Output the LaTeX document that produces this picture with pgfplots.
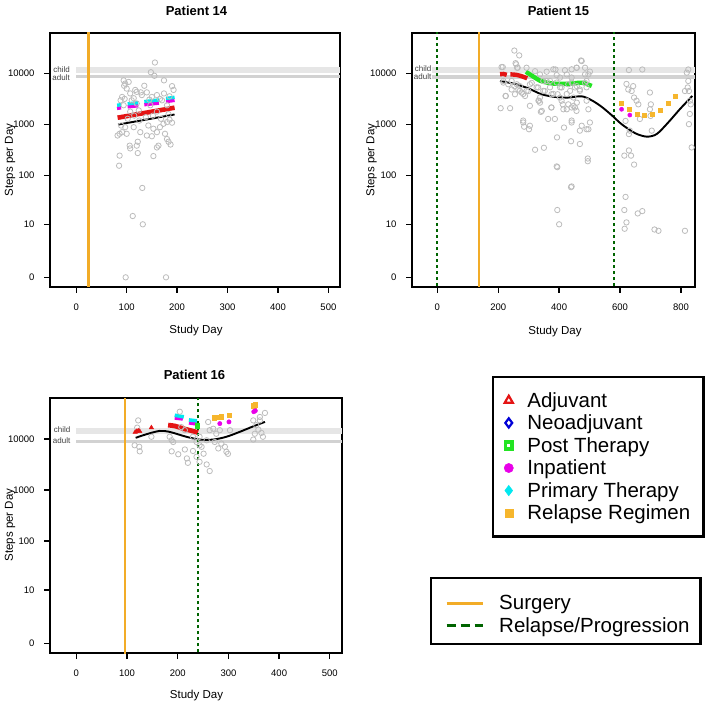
\documentclass[border=0pt]{standalone}
\usepackage{pgfplots}
\pgfplotsset{compat=1.18}
\usepackage{pgfplotstable}
\usepackage{fontspec}
\setmainfont{Liberation Sans}

\definecolor{ptgray}{RGB}{188,188,188}
\definecolor{adjred}{RGB}{228,20,20}
\definecolor{neoblue}{RGB}{0,0,215}
\definecolor{postgreen}{RGB}{35,228,35}
\definecolor{inpmag}{RGB}{232,0,232}
\definecolor{primcyan}{RGB}{0,232,240}
\definecolor{relorange}{RGB}{246,182,45}
\definecolor{surgorange}{RGB}{242,172,40}
\definecolor{relgreen}{RGB}{0,100,0}
\definecolor{childband}{RGB}{230,230,230}
\definecolor{adultband}{RGB}{210,210,210}

% steps are drawn on a log10(steps+1) scale
\newcommand{\stp}{log10(\thisrow{s}+1)}

\pgfplotstableread{
d s
156 16600
148 10700
155 9100
174 7400
94 7400
97 6400
104 6900
95 5800
100 5100
135 5800
190 5700
193 4800
117 4800
120 4400
107 4100
140 4300
130 3800
160 3800
174 4100
91 3500
114 3300
150 3500
166 3200
94 2400
120 2600
147 2400
180 2400
124 1900
160 1800
183 1600
107 1800
89 960
97 890
82 610
86 660
91 710
100 660
114 890
127 710
143 960
153 830
160 710
166 890
173 1040
180 1120
190 1090
140 610
150 590
176 660
180 520
183 460
187 405
106 385
107 340
120 385
122 460
163 385
160 355
122 275
153 240
86 245
85 155
131 56
112 15
132 10
98 0
178 0
88 3000
110 3000
128 4300
145 3100
170 3000
185 3600
138 1400
152 1500
125 1200
102 1300
168 1300
96 3200
115 1500
185 1250
}\ptfourteen

\pgfplotstableread{
d s
253 28500
269 22900
257 16100
264 13100
293 13100
211 13500
217 7200
224 3650
208 2100
239 2100
253 5700
266 4900
277 4270
288 3650
299 4570
271 5700
282 1100
285 910
301 810
304 2340
321 11200
337 9700
348 7200
359 10950
331 5370
334 2950
337 2700
340 1780
321 320
350 350
364 1290
386 1290
375 2170
388 12100
392 9400
395 3950
408 2950
416 875
414 2000
430 2500
441 2170
393 560
394 145
394 20
400 10
439 58
439 470
441 1100
452 2170
457 1860
468 415
474 950
472 18200
457 13100
485 13100
496 9700
501 11000
490 2950
496 2000
501 1100
496 810
494 190
485 6600
468 4900
452 5370
430 6200
408 5370
370 7200
353 4570
375 3950
310 6600
233 6200
244 4900
255 3950
259 15300
215 13500
262 13100
217 6700
244 7200
261 6200
271 4600
282 4000
293 4600
225 3650
403 8400
425 9700
441 8400
458 13100
474 17700
485 9700
332 2950
343 1860
441 1200
468 760
490 810
282 1200
304 950
374 2170
412 2500
425 2000
447 2330
458 2700
447 3400
403 3400
425 4000
381 4000
337 3400
348 4600
370 5400
326 5400
304 6200
403 5400
436 4600
468 4600
490 5400
458 5700
490 7200
441 6700
359 7200
392 6700
419 11700
441 12200
381 12200
494 215
392 150
441 60
629 11800
673 12100
621 6300
627 4900
638 4570
643 5700
646 3400
654 2950
660 2500
618 1180
632 760
629 650
665 1290
698 4270
701 2500
698 2000
704 760
700 1480
629 310
614 245
636 245
646 163
618 37
614 20
621 11
615 8
658 17
673 19
713 7.7
726 7.2
813 7.2
824 12100
819 10500
824 7200
822 5370
826 4570
813 4570
829 2950
829 1620
826 1020
835 355
832 2500
}\ptfifteen

\pgfplotstableread{
d s
122 23000
115 7500
124 7000
125 5700
120 16600
148 11000
184 11000
188 9400
191 8700
188 5700
201 5000
214 6200
218 4150
220 3400
230 5800
237 4460
237 8700
243 7500
247 7000
251 5130
243 3550
257 3160
263 2350
257 9400
263 14800
270 15800
276 12600
283 14800
260 21400
273 8700
280 6500
286 8100
293 7000
296 5600
299 5100
303 14800
204 34000
207 17000
214 14800
349 9700
352 12600
355 18500
359 15200
362 23000
365 13100
368 11000
372 32200
362 26800
349 23000
243 11000
230 11000
}\ptsixteen

\pgfplotsset{
  stepsaxis/.style={
    scale only axis,
    anchor=south west,
    ymin=-0.19, ymax=4.8,
    ytick={0,1.0414,2.0043,3.0004,4.0000},
    yticklabels={0,10,100,1000,10000},
    axis line style={line width=1.6pt},
    major tick style={line width=1.3pt, black},
    major tick length=6pt,
    tick align=outside,
    xtick pos=left, ytick pos=left,
    ticklabel style={font=\fontsize{9.5}{11}\selectfont},
    xticklabel style={yshift=-7pt},
    yticklabel style={xshift=-6pt},
    /pgf/number format/assume math mode=true,
    clip=true,
  },
  scatterpts/.style={only marks, mark=o, mark size=2.7pt, draw=ptgray,
    mark options={line width=0.8pt, draw=ptgray}},
}

\begin{document}
\begin{tikzpicture}
\path[use as bounding box] (0,0) rectangle (709pt,707pt);

% ---------------- Patient 14 ----------------
\begin{axis}[stepsaxis, at={(50pt,420pt)}, width=290pt, height=254pt,
  xmin=-52, xmax=523, xtick={0,100,...,500}]
\addplot[childband, line width=5.6pt] table[x=d, y expr=\stp] {
d s
0 11700
523 11700
};
\addplot[adultband, line width=3.2pt] table[x=d, y expr=\stp] {
d s
0 8700
523 8700
};
\addplot[surgorange, line width=2.2pt] coordinates {(24.4,-1) (24.4,6)};
\addplot[scatterpts] table[x=d, y expr=\stp] {\ptfourteen};
\addplot[black, line width=1.9pt] table[x=d, y expr=\stp] {
d s
83 1000
195 1580
};
\addplot[adjred, line width=4.6pt] table[x=d, y expr=\stp] {
d s
82 1365
195 2150
};
\addplot[inpmag, line width=3.4pt] table[x=d, y expr=\stp] {
d s
81 2080
89 2140
};
\addplot[inpmag, line width=3.4pt] table[x=d, y expr=\stp] {
d s
102 2230
123 2350
};
\addplot[inpmag, line width=3.4pt] table[x=d, y expr=\stp] {
d s
135 2460
164 2650
};
\addplot[inpmag, line width=3.4pt] table[x=d, y expr=\stp] {
d s
178 2830
195 3000
};
\addplot[primcyan, line width=3.4pt] table[x=d, y expr=\stp] {
d s
81 2400
89 2460
};
\addplot[primcyan, line width=3.4pt] table[x=d, y expr=\stp] {
d s
102 2560
123 2700
};
\addplot[primcyan, line width=3.4pt] table[x=d, y expr=\stp] {
d s
135 2830
164 3050
};
\addplot[primcyan, line width=3.4pt] table[x=d, y expr=\stp] {
d s
178 3250
195 3450
};
\end{axis}

% ---------------- Patient 15 ----------------
\begin{axis}[stepsaxis, at={(412pt,420pt)}, width=283pt, height=254pt,
  xmin=-83, xmax=846, xtick={0,200,...,800}]
\addplot[childband, line width=5.6pt] table[x=d, y expr=\stp] {
d s
-18 11700
846 11700
};
\addplot[adultband, line width=3.2pt] table[x=d, y expr=\stp] {
d s
-18 8600
846 8600
};
\addplot[surgorange, line width=2.2pt] coordinates {(138,-1) (138,6)};
\addplot[relgreen, line width=1.8pt, dash pattern=on 3pt off 3pt] coordinates {(0,-1) (0,6)};
\addplot[relgreen, line width=1.8pt, dash pattern=on 3pt off 3pt] coordinates {(581,-1) (581,6)};
\addplot[scatterpts] table[x=d, y expr=\stp] {\ptfifteen};
\addplot[black, line width=1.9pt, smooth] table[x=d, y expr=\stp] {
d s
206 7200
255 6300
299 5150
342 3950
386 3500
430 3400
474 3600
507 3000
539 2250
572 1540
605 1020
649 680
687 580
720 650
758 1100
796 2000
837 3650
};
\addplot[adjred, line width=4.4pt] table[x=d, y expr=\stp] {
d s
206 9800
217 9900
228 9500
};
\addplot[adjred, line width=4.4pt, smooth] table[x=d, y expr=\stp] {
d s
240 9700
260 9500
280 8800
295 8100
};
\addplot[postgreen, line width=4.4pt, smooth] table[x=d, y expr=\stp] {
d s
291 10900
315 8800
337 7300
360 6700
381 6400
410 6300
436 6350
460 6600
474 6650
490 6300
507 5750
};
\addplot[only marks, mark=square*, mark size=2pt, relorange] table[x=d, y expr=\stp] {
d s
605 2600
630 2000
657 1620
679 1540
707 1620
731 1940
758 2600
780 3550
};
\addplot[only marks, mark=*, mark size=2.1pt, inpmag] table[x=d, y expr=\stp] {
d s
605 2000
632 1540
};
\end{axis}

% ---------------- Patient 16 ----------------
\begin{axis}[stepsaxis, at={(50pt,54pt)}, width=292pt, height=255pt,
  xmin=-52, xmax=524, xtick={0,100,...,500}]
\addplot[childband, line width=6pt] table[x=d, y expr=\stp] {
d s
0 14100
524 14100
};
\addplot[adultband, line width=3.2pt] table[x=d, y expr=\stp] {
d s
0 8750
524 8750
};
\addplot[surgorange, line width=2.2pt] coordinates {(96,-1) (96,6)};
\addplot[scatterpts] table[x=d, y expr=\stp] {\ptsixteen};
\addplot[black, line width=1.9pt, smooth] table[x=d, y expr=\stp] {
d s
117 10500
138 12300
164 14300
184 13700
217 11000
243 9700
270 9700
296 11000
322 13700
349 17600
372 21500
};
\addplot[only marks, mark=triangle*, mark size=2.6pt, adjred] table[x=d, y expr=\stp] {
d s
116 13500
119 14000
122 14400
125 14000
148 16600
};
\addplot[adjred, line width=4.8pt, smooth] table[x=d, y expr=\stp] {
d s
181 18600
195 17800
210 16000
225 14600
240 13300
};
\addplot[postgreen, only marks, mark=square*, mark size=2.2pt] table[x=d, y expr=\stp] {
d s
238 18000
};
\addplot[inpmag, line width=3.4pt] table[x=d, y expr=\stp] {
d s
194 25500
210 24500
};
\addplot[inpmag, line width=3.4pt] table[x=d, y expr=\stp] {
d s
222 20500
238 19500
};
\addplot[primcyan, line width=3.6pt] table[x=d, y expr=\stp] {
d s
194 29000
212 27000
};
\addplot[primcyan, line width=3.6pt] table[x=d, y expr=\stp] {
d s
222 23500
238 22500
};
\addplot[only marks, mark=square*, mark size=2.2pt, relorange] table[x=d, y expr=\stp] {
d s
272 26000
279 26300
286 27000
301 29400
350 45000
353 47000
};
\addplot[only marks, mark=*, mark size=2.2pt, inpmag] table[x=d, y expr=\stp] {
d s
283 19900
301 21500
350 34000
353 35500
};
\addplot[relgreen, line width=1.8pt, dash pattern=on 3pt off 3pt] coordinates {(240.7,-1) (240.7,6)};
\end{axis}

% ---------------- titles, labels, band names ----------------
\begin{scope}[font=\fontsize{11.5}{13}\selectfont]
\node[font=\bfseries\fontsize{13}{15}\selectfont] at (196.5pt,696pt) {Patient 14};
\node[font=\bfseries\fontsize{13}{15}\selectfont] at (558.5pt,696pt) {Patient 15};
\node[font=\bfseries\fontsize{13}{15}\selectfont] at (194.5pt,332pt) {Patient 16};
\node at (196pt,376pt) {Study Day};
\node at (555pt,375.5pt) {Study Day};
\node at (196.5pt,11pt) {Study Day};
\node[rotate=90] at (10pt,547pt) {Steps per Day};
\node[rotate=90] at (371.5pt,547pt) {Steps per Day};
\node[rotate=90] at (10pt,182pt) {Steps per Day};
\end{scope}
\begin{scope}[font=\fontsize{8}{9}\selectfont, text=black!75, inner sep=0pt]
\node[anchor=east] at (70pt,637pt) {child};
\node[anchor=east] at (70pt,629.7pt) {adult};
\node[anchor=east] at (431.5pt,638.3pt) {child};
\node[anchor=east] at (431.5pt,630.3pt) {adult};
\node[anchor=east] at (70.5pt,277pt) {child};
\node[anchor=east] at (70.5pt,266pt) {adult};
\end{scope}

% ---------------- legends ----------------
\begin{axis}[at={(0pt,0pt)}, anchor=south west, scale only axis,
  width=709pt, height=707pt, hide axis, xmin=0, xmax=1, ymin=0, ymax=1,
  legend cell align=left,
  legend style={at={(0.6939,0.4682)}, anchor=north west, draw=black,
    line width=2.4pt, fill=white, font=\fontsize{20.5}{23}\selectfont,
    inner xsep=11pt, inner ysep=13pt, row sep=2.2pt,
    /tikz/every odd column/.append style={column sep=12pt}}]
\addplot[draw=none, forget plot] coordinates {(0,0)};
\addlegendimage{only marks, mark=triangle, mark size=4.6pt, adjred, mark options={line width=2.2pt}}
\addlegendentry{Adjuvant}
\addlegendimage{only marks, mark=diamond, mark size=4.6pt, neoblue, mark options={line width=2.2pt}}
\addlegendentry{Neoadjuvant}
\addlegendimage{only marks, mark=square, mark size=3.3pt, postgreen, mark options={line width=3.6pt}}
\addlegendentry{Post Therapy}
\addlegendimage{only marks, mark=*, mark size=4.6pt, inpmag, mark options={line width=0.5pt}}
\addlegendentry{Inpatient}
\addlegendimage{only marks, mark=diamond*, mark size=5.2pt, primcyan, mark options={line width=0.5pt}}
\addlegendentry{Primary Therapy}
\addlegendimage{only marks, mark=square*, mark size=4pt, relorange, mark options={line width=0.5pt}}
\addlegendentry{Relapse Regimen}
\end{axis}

\begin{axis}[at={(0pt,0pt)}, anchor=south west, scale only axis,
  width=709pt, height=707pt, hide axis, xmin=0, xmax=1, ymin=0, ymax=1,
  legend cell align=left,
  legend image code/.code={\path (0pt,0pt); \draw[#1] (5pt,0pt) -- (41pt,0pt);},
  legend style={at={(0.6065,0.1839)}, anchor=north west, draw=black,
    line width=2.4pt, fill=white, font=\fontsize{20.5}{23}\selectfont,
    inner xsep=9pt, inner ysep=8pt, row sep=2pt,
    /tikz/every odd column/.append style={column sep=13pt}}]
\addplot[draw=none, forget plot] coordinates {(0,0)};
\addlegendimage{empty legend}
\addlegendentry[font=\fontsize{10}{10}\selectfont]{}
\addlegendimage{surgorange, line width=3pt}
\addlegendentry{Surgery}
\addlegendimage{relgreen, line width=3pt, dash pattern=on 9pt off 5pt}
\addlegendentry{Relapse/Progression}
\end{axis}
\end{tikzpicture}
\end{document}
